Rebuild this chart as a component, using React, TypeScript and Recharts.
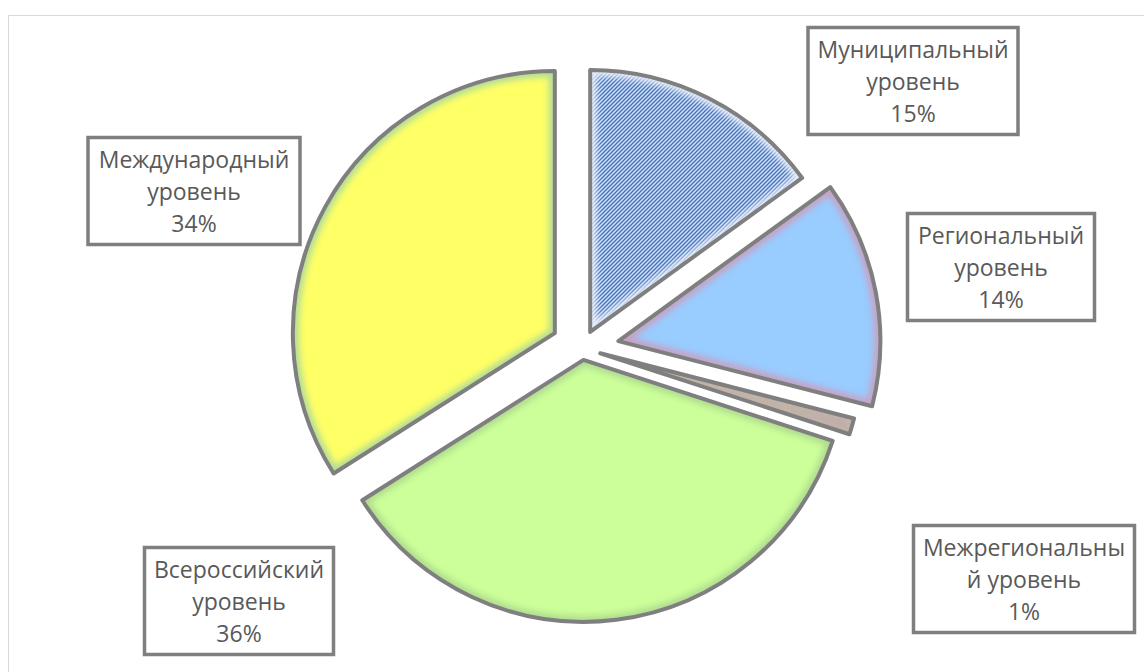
import React from 'react';
import { PieChart, Pie, Sector, Cell } from 'recharts';

// ---- data ----
const categories = [
  'Муниципальный уровень',
  'Региональный уровень',
  'Межрегиональный уровень',
  'Всероссийский уровень',
  'Международный уровень',
];
const shares = [15, 14, 1, 36, 34];
const labelLines = [
  ['Муниципальный', 'уровень'],
  ['Региональный', 'уровень'],
  ['Межрегиональны', 'й уровень'],
  ['Всероссийский', 'уровень'],
  ['Международный', 'уровень'],
];

const data = categories.map((name, i) => ({ name, value: shares[i] }));

// ---- layout / style ----
const W = 1144;
const H = 672;
const CX = 582;
const CY = 348;
const R = 262;
const RAD = Math.PI / 180;
const explode = [18, 37, 19, 12, 31];
const fills = ['url(#muniPattern)', '#99ccff', '#b9a6b4', '#ccff99', '#ffff66'];
const glows = ['#eef3fb', '#d793ad', '#c9bda0', '#a9d18e', '#9fd3a4'];
const glowOpacity = [0.9, 0.75, 0.6, 0.8, 0.8];
const boxCenters: [number, number][] = [
  [913, 81],
  [1001, 267],
  [1024, 579],
  [239, 601],
  [194, 191],
];
const boxWidths = [210, 187, 221, 189, 212];
const BOX_H = 107;
const LINE_GAP = 32;
const TEXT_COLOR = '#595959';
const EDGE = '#7f7f7f';

function renderSlice(props: any) {
  const { cx, cy, outerRadius, startAngle, endAngle, midAngle, index, percent } = props;
  const d = explode[index];
  const ox = cx + d * Math.cos(-midAngle * RAD);
  const oy = cy + d * Math.sin(-midAngle * RAD);
  const clipId = `slice-clip-${index}`;
  const [bx, by] = boxCenters[index];
  const bw = boxWidths[index];
  const lines = [...labelLines[index], `${Math.round(percent * 100)}%`];
  const geo = { cx: ox, cy: oy, innerRadius: 0, outerRadius, startAngle, endAngle };
  return (
    <g>
      <clipPath id={clipId}>
        <Sector {...geo} />
      </clipPath>
      <Sector {...geo} fill={fills[index]} stroke="none" />
      <g clipPath={`url(#${clipId})`}>
        <g filter="url(#glowBlur)" opacity={glowOpacity[index]}>
          <Sector {...geo} fill="none" stroke={glows[index]} strokeWidth={12} />
        </g>
      </g>
      <Sector {...geo} fill="none" stroke={EDGE} strokeWidth={4} strokeLinejoin="round" />
      <rect
        x={bx - bw / 2}
        y={by - BOX_H / 2}
        width={bw}
        height={BOX_H}
        fill="#ffffff"
        stroke={EDGE}
        strokeWidth={3.5}
      />
      {lines.map((t, k) => (
        <text
          key={k}
          x={bx}
          y={by + (k - 1) * LINE_GAP}
          textAnchor="middle"
          dominantBaseline="central"
          fontFamily="'Open Sans', sans-serif"
          fontSize={23}
          fill={TEXT_COLOR}
        >
          {t}
        </text>
      ))}
    </g>
  );
}

export default function App() {
  return (
    <div style={{ position: 'absolute', left: 0, top: 0, width: W, height: H, background: '#fff', overflow: 'hidden' }}>
      <svg width={0} height={0} style={{ position: 'absolute' }}>
        <defs>
          <pattern id="muniPattern" patternUnits="userSpaceOnUse" width={4} height={4}>
            <rect x={0} y={0} width={4} height={4} fill="#d3e0f3" />
            <path d="M-1,1 l2,-2 M0,4 l4,-4 M3,5 l2,-2" stroke="#3f70c2" strokeWidth={1.3} />
          </pattern>
          <filter id="glowBlur" x="-20%" y="-20%" width="140%" height="140%">
            <feGaussianBlur stdDeviation={3} />
          </filter>
        </defs>
      </svg>
      <div
        style={{
          position: 'absolute',
          left: 8,
          top: 15,
          width: W,
          height: H,
          borderLeft: '1.5px solid #d9d9d9',
          borderTop: '1.5px solid #d9d9d9',
        }}
      />
      <div style={{ position: 'absolute', left: 0, top: 0 }}>
        <PieChart width={W} height={H} margin={{ top: 0, right: 0, bottom: 0, left: 0 }}>
          <Pie
            data={data}
            dataKey="value"
            nameKey="name"
            cx={CX}
            cy={CY}
            outerRadius={R}
            startAngle={90}
            endAngle={-270}
            stroke="none"
            label={renderSlice}
            labelLine={false}
            isAnimationActive={false}
          >
            {data.map((_, i) => (
              <Cell key={i} fill="transparent" stroke="none" />
            ))}
          </Pie>
        </PieChart>
      </div>
    </div>
  );
}
